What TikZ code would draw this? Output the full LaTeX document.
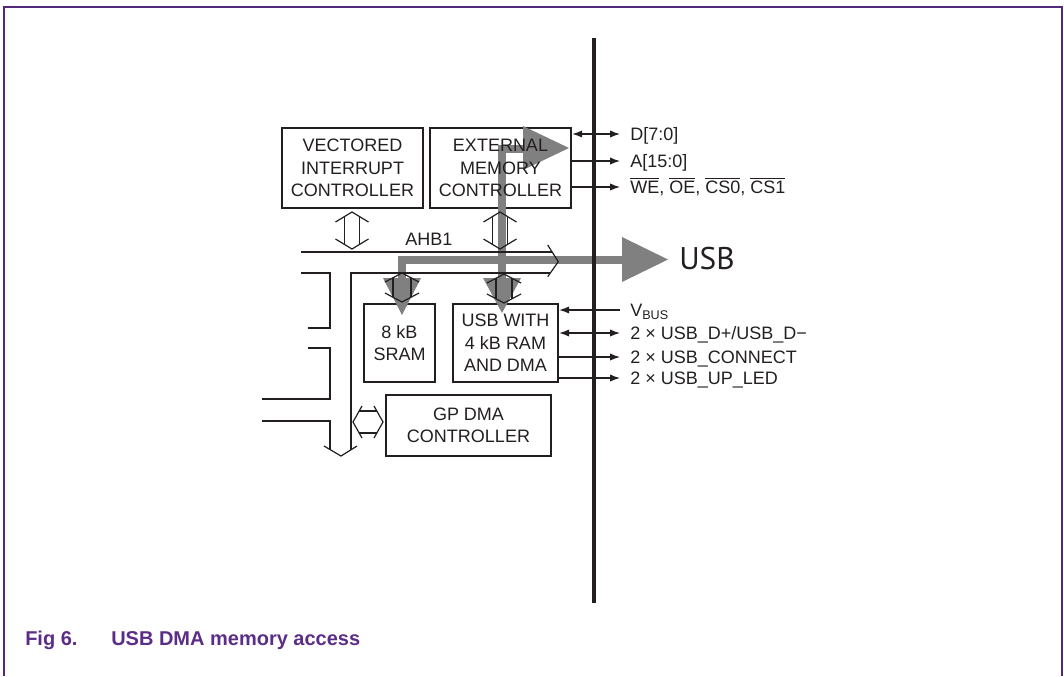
\documentclass[tikz,border=0pt]{standalone}
\usepackage{fontspec}
\setmainfont{Liberation Sans}
\newfontfamily\usbfont{PT Sans}
\usetikzlibrary{arrows.meta}
\definecolor{framecol}{RGB}{82,40,122}
\definecolor{capcol}{RGB}{92,45,135}
\definecolor{grayarrow}{RGB}{128,128,128}
\definecolor{ink}{RGB}{35,31,32}
\newcommand\vhollow[6]{% cx, ytop, ybot, h, W, w
  \draw[bus] ({#1-#5},{#2+#4}) -- (#1,#2) -- ({#1+#5},{#2+#4});
  \draw[bus] ({#1-#5},{#3-#4}) -- (#1,#3) -- ({#1+#5},{#3-#4});
  \draw[bus] ({#1-#6},{#2+#4*#6/#5}) -- ({#1-#6},{#3-#4*#6/#5});
  \draw[bus] ({#1+#6},{#2+#4*#6/#5}) -- ({#1+#6},{#3-#4*#6/#5});
}
\newcommand\hhollow[6]{% cy, xleft, xright, h, W, w
  \draw[bus] ({#2+#4},{#1-#5}) -- (#2,#1) -- ({#2+#4},{#1+#5});
  \draw[bus] ({#3-#4},{#1-#5}) -- (#3,#1) -- ({#3-#4},{#1+#5});
  \draw[bus] ({#2+#4*#6/#5},{#1-#6}) -- ({#3-#4*#6/#5},{#1-#6});
  \draw[bus] ({#2+#4*#6/#5},{#1+#6}) -- ({#3-#4*#6/#5},{#1+#6});
}
\begin{document}
\begin{tikzpicture}[x=0.75pt,y=-0.75pt,
  box/.style={draw=ink,line width=1.8pt,inner sep=0pt,outer sep=0.9pt},
  boxtext/.style={align=center,font=\fontsize{13.5}{16.8}\selectfont,text=ink,inner sep=0pt},
  bus/.style={draw=ink,line width=0.9pt},
  sig/.style={draw=ink,line width=0.9pt},
  tipr/.style={-{Latex[length=7.5pt,width=5.5pt]}},
  tipl/.style={{Latex[length=7.5pt,width=5.5pt]}-},
  tipb/.style={{Latex[length=7.5pt,width=5.5pt]}-{Latex[length=7.5pt,width=5.5pt]}},
  lbl/.style={anchor=base west,font=\fontsize{13.5}{16}\selectfont,text=ink,inner sep=0pt},
  gbar/.style={draw=grayarrow,line width=6pt},
  ghead/.style={fill=grayarrow,draw=none},
]
\useasboundingbox (0,0) rectangle (1064,676);
% frame
\draw[framecol,line width=1.2pt] (4,676) -- (4,7) -- (1062,7) -- (1062,676);

% boxes
\node[box,minimum width={141*0.75pt},minimum height={80*0.75pt}] (vic) at (352.5,168) {};
\node[box,minimum width={141*0.75pt},minimum height={80*0.75pt}] (emc) at (500.5,168) {};
\node[box,minimum width={71*0.75pt},minimum height={78*0.75pt}] (sram) at (399.5,343) {};
\node[box,minimum width={105*0.75pt},minimum height={78*0.75pt}] (usbm) at (505.5,343) {};
\node[box,minimum width={165*0.75pt},minimum height={61*0.75pt}] (gpdma) at (468.5,425.5) {};

% gray data paths
\draw[gbar] (502,282) -- (502,149) -- (526,149);
\fill[ghead] (523,126) -- (569,148) -- (523,170) -- cycle;
\fill[ghead] (483,278) -- (521,278) -- (502,313) -- cycle;
\draw[gbar] (402,282) -- (402,260) -- (626,260);
\fill[ghead] (383,278) -- (421,278) -- (402,315) -- cycle;
\fill[ghead] (622,237) -- (668,259.5) -- (622,282) -- cycle;

% AHB1 bus
\draw[bus] (301,252) -- (552,252);
\draw[bus] (550,273) -- (351,273) -- (351,449.8);
\draw[bus] (547.7,245) -- (558.3,261.7) -- (547.7,276.7);
\draw[bus] (301,273) -- (330,273) -- (330,328) -- (308,328);
\draw[bus] (308,348) -- (330,348) -- (330,399) -- (262,399);
\draw[bus] (262,421) -- (330,421) -- (330,449.5);
\draw[bus] (324,446) -- (341,456) -- (357,446);

% bus connectors
\vhollow{352}{212}{249}{10}{16.5}{7.5}
\vhollow{500}{212}{249}{10}{16.5}{7.5}
\vhollow{402}{273}{302}{9}{17}{9}
\vhollow{504}{274}{303}{9}{17}{8}
\hhollow{422}{353}{383}{9}{16}{11}

% boundary line
\draw[ink,line width=2.3pt] (594,38) -- (594,603);

% signal ends
\coordinate (dend) at (620,134);
\coordinate (aend) at (620,161);
\coordinate (wend) at (620,187);
\coordinate (vend) at (620,310);
\coordinate (usbdend) at (620,333);
\coordinate (cend) at (620,357);
\coordinate (lend) at (620,378);
\draw[sig,tipb] (emc.east |- dend) -- (dend);
\draw[sig,tipr] (emc.east |- aend) -- (aend);
\draw[sig,tipr] (emc.east |- wend) -- (wend);
\draw[sig,tipl] (usbm.east |- vend) -- (vend);
\draw[sig,tipb] (usbm.east |- usbdend) -- (usbdend);
\draw[sig,tipr] (usbm.east |- cend) -- (cend);
\draw[sig,tipr] (usbm.east |- lend) -- (lend);

% box texts
\node[boxtext] (vict) at (vic.center) {VECTORED\\INTERRUPT\\CONTROLLER};
\node[boxtext] (emct) at (emc.center) {EXTERNAL\\MEMORY\\CONTROLLER};
\node[boxtext] (sramt) at (sram.center) {8 kB\\SRAM};
\node[boxtext] (usbmt) at (usbm.center) {USB WITH\\4 kB RAM\\AND DMA};
\node[boxtext] (gpdmat) at (gpdma.center) {GP DMA\\CONTROLLER};

% labels
\node[lbl] (ahb) at (405,245) {AHB1};
\node[lbl] (ld) at (630,140) {D[7:0]};
\node[lbl] (la) at (630,167) {A[15:0]};
\node[lbl] (lw) at (630,193) {$\overline{\mbox{WE}}$, $\overline{\mbox{OE}}$, $\overline{\mbox{CS0}}$, $\overline{\mbox{CS1}}$};
\node[lbl] (lv) at (630,316.5) {V\textsubscript{BUS}};
\node[lbl] (lud) at (630,339.5) {2 × USB\_D+/USB\_D−};
\node[lbl] (luc) at (630,363.5) {2 × USB\_CONNECT};
\node[lbl] (lul) at (630,384.5) {2 × USB\_UP\_LED};
\node[anchor=west,font=\usbfont\fontsize{23.5}{26}\selectfont,text=ink,inner sep=0pt] (usblbl) at (679,259) {USB};

% caption
\node[anchor=base west,font=\bfseries\fontsize{15}{18}\selectfont,text=capcol,inner sep=0pt] (fig) at (25,645) {Fig 6.};
\node[anchor=base west,font=\bfseries\fontsize{15}{18}\selectfont,text=capcol,inner sep=0pt] (figt) at (111,645) {USB DMA memory access};
\end{tikzpicture}
\end{document}
